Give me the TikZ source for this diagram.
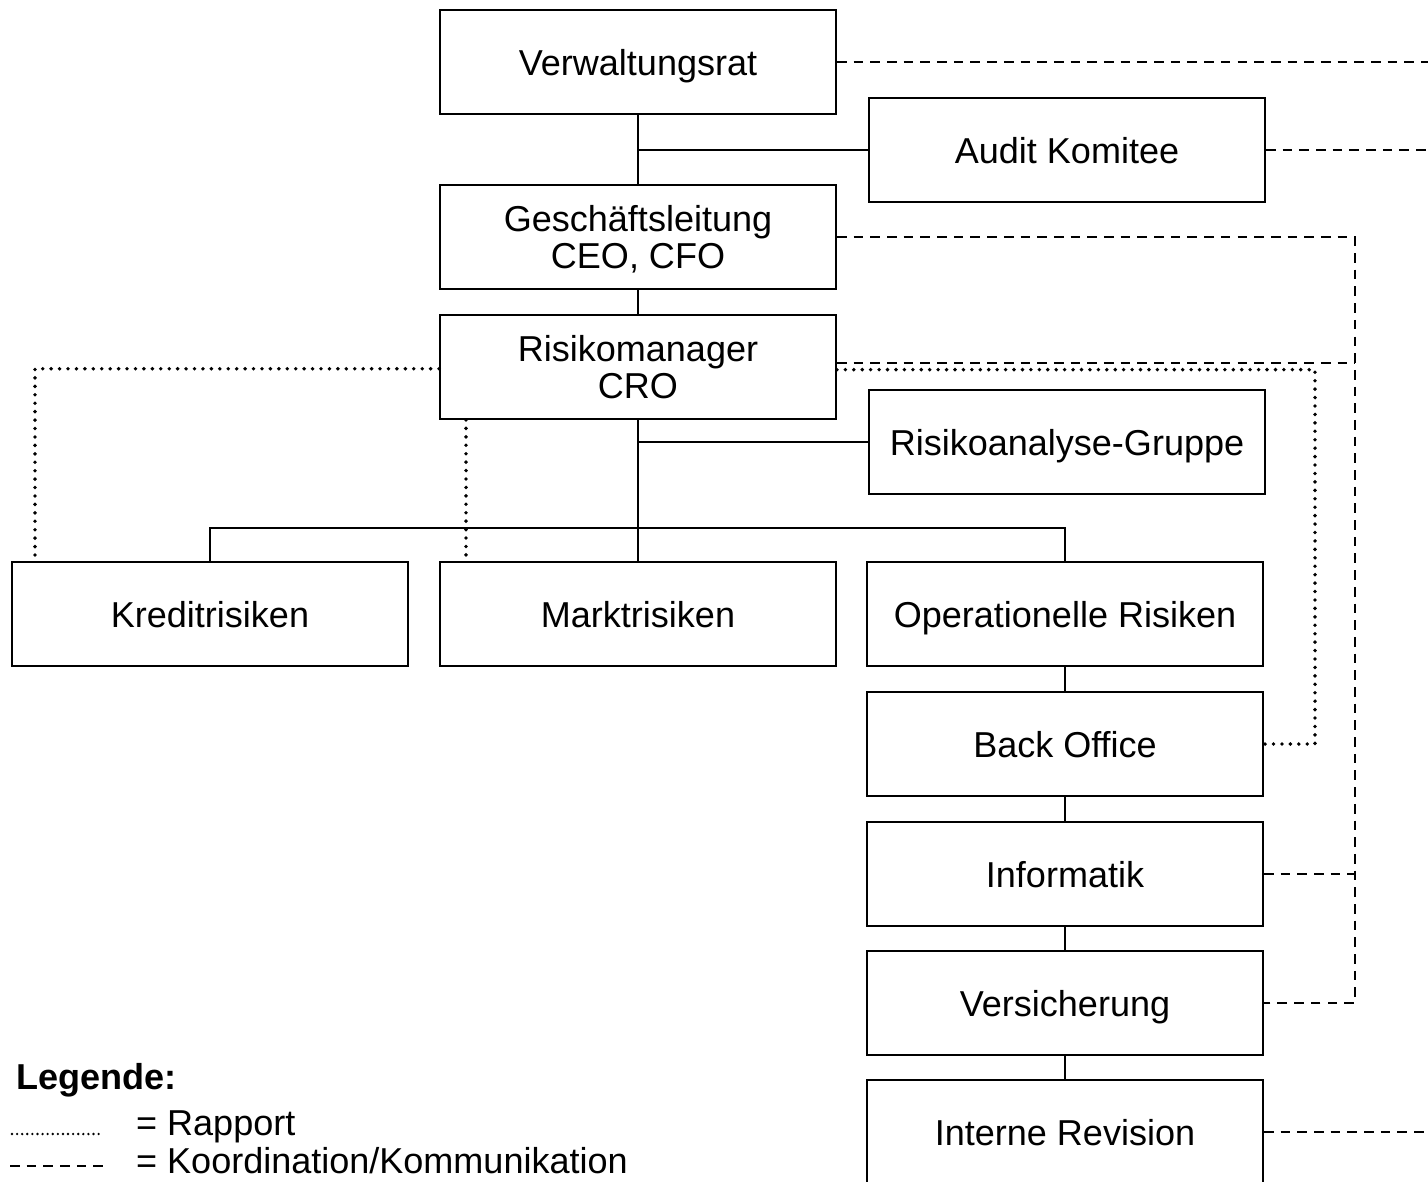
\documentclass[tikz,border=0pt]{standalone}
\usepackage{fontspec}
\setmainfont{Liberation Sans}
\usetikzlibrary{positioning, calc}

\tikzset{
  orgbox/.style={draw, line width=1.1pt, minimum width=7.92cm, minimum height=2.08cm,
    inner sep=0pt, text depth=0pt, align=center, font=\fontsize{20.5}{21.5}\selectfont},
  solidline/.style={line width=1.1pt},
  rapport/.style={line width=2.2pt, line cap=round, dash pattern=on 0pt off 4.8pt},
  koord/.style={line width=1.1pt, dash pattern=on 5.5pt off 4pt},
  legtext/.style={anchor=west, font=\fontsize{20.5}{24}\selectfont},
}

\begin{document}
\begin{tikzpicture}[x=0.02cm, y=-0.02cm]
  \clip (0,0) rectangle (1428,1181);

  % Leitung
  \node[orgbox] (vr) at (638, 62) {Verwaltungsrat};
  \node[orgbox] (audit) at (1067, 150) {Audit Komitee};
  \node[orgbox] (gl) at (638, 237) {Geschäftsleitung\\CEO, CFO};
  \node[orgbox] (cro) at (638, 367) {Risikomanager\\CRO};
  \node[orgbox] (analyse) at (1067, 442) {Risikoanalyse-Gruppe};

  % Risikoarten
  \node[orgbox] (kredit) at (210, 614) {Kreditrisiken};
  \node[orgbox] (markt) at (638, 614) {Marktrisiken};
  \node[orgbox] (oprisk) at (1065, 614) {Operationelle Risiken};

  % Operationelle Kette
  \node[orgbox] (backoffice) at (1065, 744) {Back Office};
  \node[orgbox] (informatik) at (1065, 874) {Informatik};
  \node[orgbox] (versicherung) at (1065, 1003) {Versicherung};
  \node[orgbox] (revision) at (1065, 1132) {Interne Revision};

  % Hilfspunkte
  \coordinate (bus) at (638, 528);
  \coordinate (rechts) at (1428, 0);
  \coordinate (kx) at (1355, 0);
  \coordinate (rx) at (1315, 0);
  \coordinate (lx) at (35, 0);
  \coordinate (mx) at (466, 0);

  % Linien
  \draw[solidline] (vr) -- (gl);
  \draw[solidline] (vr.south |- audit) -- (audit);
  \draw[solidline] (gl) -- (cro);
  \draw[solidline] (cro) -- (markt);
  \draw[solidline] (cro.south |- analyse) -- (analyse);
  \draw[solidline] (kredit.north) |- (bus) -| (oprisk.north);
  \foreach \a/\b in {oprisk/backoffice, backoffice/informatik,
                     informatik/versicherung, versicherung/revision}
    \draw[solidline] (\a) -- (\b);

  % Koordination
  \draw[koord] (vr.east) -- (vr.east -| rechts);
  \draw[koord] (audit.east) -- (audit.east -| rechts);
  \draw[koord] (revision.east) -- (revision.east -| rechts);
  \draw[koord] (gl.east) -| (kx |- versicherung.east) -- (versicherung.east);
  \draw[koord] ([yshift=2.5pt]cro.east) -- ([yshift=2.5pt]cro.east -| kx);
  \draw[koord] (informatik.east) -- (informatik.east -| kx);

  % Rapport
  \draw[rapport] ([yshift=-1.5pt]cro.east) -| (rx |- backoffice.east) -- (backoffice.east);
  \draw[rapport] ([yshift=-1pt]cro.west) -| (kredit.north -| lx);
  \draw[rapport] (cro.south -| mx) -- (markt.north -| mx);

  % Legende
  \node[legtext, font=\fontsize{20.5}{24}\selectfont\bfseries] (legende) at (10, 1080) {Legende:};
  \node[legtext] (rapporttext) at (130, 1127) {= Rapport};
  \node[legtext] (koordtext) at (130, 1161) {= Koordination/Kommunikation};
  \draw[rapport, line width=1.5pt, dash pattern=on 0pt off 2.9pt] (12, 1134) -- (100, 1134);
  \draw[koord] (10, 1166) -- (105, 1166);
\end{tikzpicture}
\end{document}
